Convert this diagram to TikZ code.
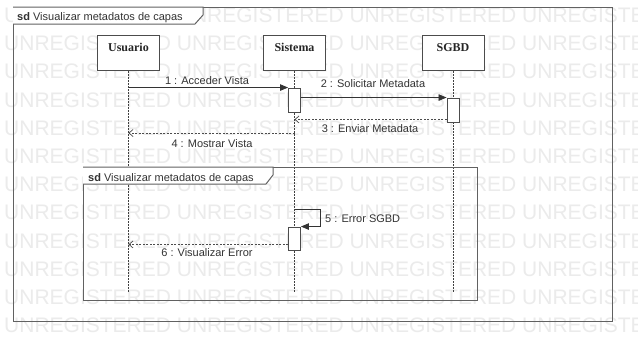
\documentclass[tikz,border=0pt]{standalone}
\usepackage{fontspec}
\setmainfont{Liberation Sans}
\newfontfamily\headfont{Liberation Serif}
\usetikzlibrary{arrows.meta}

\begin{document}
\begin{tikzpicture}[x=1pt,y=-1pt,
  frameline/.style={draw=black!62, line width=1pt},
  framebox/.style={frameline, anchor=north west, inner sep=0pt},
  tabtext/.style={font=\fontsize{11}{13}\selectfont, text=black!80, anchor=base west, inner sep=0pt},
  headbox/.style={draw=black!70, fill=white, line width=1pt, minimum width=62pt,
    minimum height=35pt, inner sep=0pt, anchor=north},
  headtext/.style={font=\headfont\bfseries\fontsize{12}{14}\selectfont, text=black!85,
    anchor=base, inner sep=0pt},
  lifeline/.style={draw=black!75, line width=0.7pt, dash pattern=on 1.5pt off 1.5pt},
  actbox/.style={draw=black!70, fill=white, line width=0.9pt, minimum width=12pt, inner sep=0pt},
  callmsg/.style={draw=black!80, line width=0.8pt, -{Triangle[length=8pt,width=6.5pt]}},
  retmsg/.style={draw=black!70, line width=0.7pt, dash pattern=on 2pt off 1.5pt,
    -{Straight Barb[length=4pt,width=7pt]}},
  msglabel/.style={font=\fontsize{11}{13}\selectfont, text=black!80, anchor=base, inner sep=0pt},
  wmark/.style={font=\fontsize{21}{24}\selectfont, text=black!8, anchor=base west, inner sep=0pt}
]
\useasboundingbox (0,0) rectangle (638,338);
\fill[white] (0,0) rectangle (638,338);

% tool watermark rows
\begin{scope}
  \clip (0,0) rectangle (638,338);
  \foreach \r in {0,...,11}
    \node[wmark] (wm\r) at (4, 22.5+28.2*\r) {UNREGISTERED UNREGISTERED UNREGISTERED UNREGISTERED};
\end{scope}

% outer frame and its tab
\node[framebox, minimum width=599pt, minimum height=314pt] (outer) at (13,7) {};
\draw[frameline, fill=white] (outer.north west) -- ++(190,0) -- ++(0,8) -- ++(-8,9) -- ++(-182,0);
\node[tabtext] (outer-title) at (17,20.5) {\textbf{sd} Visualizar metadatos de capas};

% lifeline heads
\node[headbox] (usr) at (128.5,35) {};
\node[headbox] (sys) at (294.5,35) {};
\node[headbox] (db)  at (453,35) {};
\node[headtext] (usr-name) at (128.5,51) {Usuario};
\node[headtext] (sys-name) at (294.5,51) {Sistema};
\node[headtext] (db-name)  at (453,51) {SGBD};

% lifelines
\coordinate (usr-end) at (128.5,293);
\coordinate (sys-end) at (294.5,293);
\coordinate (db-end)  at (453,293);
\draw[lifeline] (usr.south) -- (usr-end);
\draw[lifeline] (sys.south) -- (sys-end);
\draw[lifeline] (db.south) -- (db-end);

% inner frame and its tab
\node[framebox, minimum width=394pt, minimum height=133pt] (inner) at (83,167) {};
\draw[frameline, fill=white] (inner.north west) -- ++(190,0) -- ++(0,8) -- ++(-7,9) -- ++(-183,0);
\node[tabtext] (inner-title) at (88,181) {\textbf{sd} Visualizar metadatos de capas};

% activations
\node[actbox, minimum height=24pt] (act1) at (294.5,100) {};
\node[actbox, minimum height=24pt] (act2) at (453,110) {};
\node[actbox, minimum height=23pt] (act3) at (294.5,238.5) {};

% 1 : Acceder Vista
\draw[callmsg] (usr |- act1.north west) -- (act1.north west);
\node[msglabel] (l1) at (207,84) {1 : Acceder Vista};

% 2 : Solicitar Metadata
\draw[callmsg] (act1.east |- act2.north west) -- (act2.north west);
\node[msglabel] (l2) at (373,87) {2 : Solicitar Metadata};

% 3 : Enviar Metadata
\coordinate (r3) at ([yshift=3pt]act2.south west);
\draw[retmsg] (r3) -- (sys |- r3);
\node[msglabel] (l3) at (370,132) {3 : Enviar Metadata};

% 4 : Mostrar Vista
\coordinate (r4) at (294.5,133);
\draw[retmsg] (r4) -- (usr |- r4);
\node[msglabel] (l4) at (212,147) {4 : Mostrar Vista};

% 5 : Error SGBD (self call)
\coordinate (m5) at (294.5,209);
\draw[callmsg] (m5) -- ++(25.5,0) |- (act3.north east);
\node[msglabel, anchor=base west] (l5) at (325,222) {5 : Error SGBD};

% 6 : Visualizar Error
\coordinate (r6) at ([yshift=6pt]act3.south west);
\draw[retmsg] (r6) -- (usr |- r6);
\node[msglabel] (l6) at (207,256) {6 : Visualizar Error};
\end{tikzpicture}
\end{document}
